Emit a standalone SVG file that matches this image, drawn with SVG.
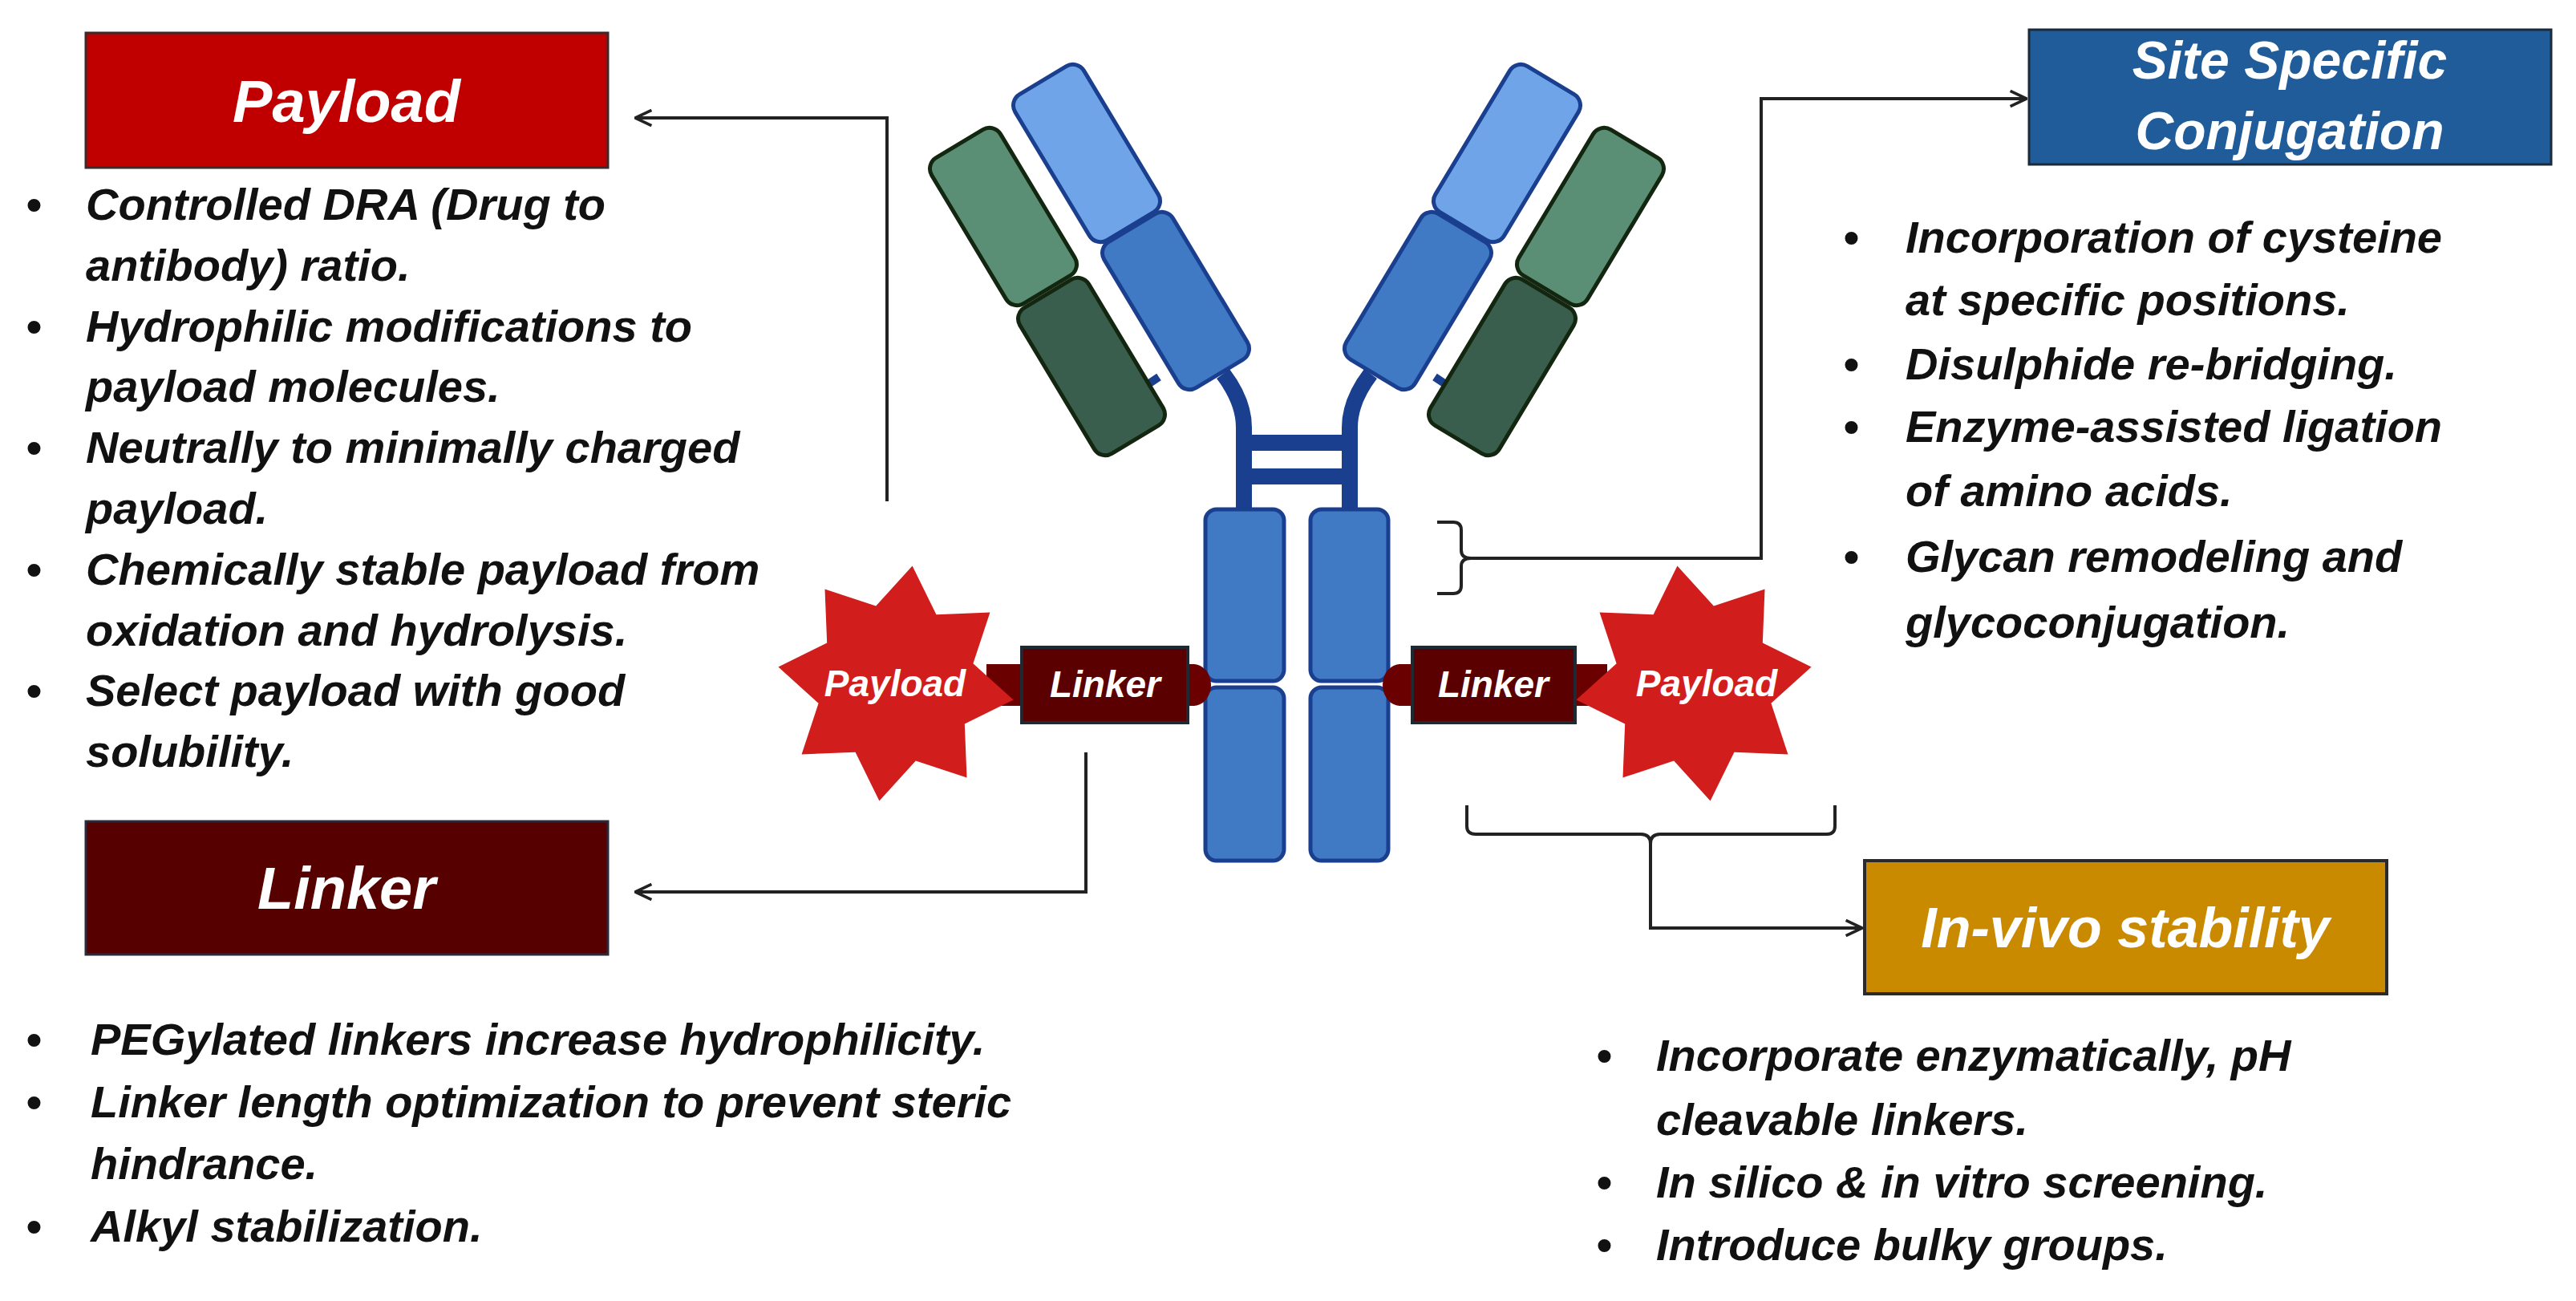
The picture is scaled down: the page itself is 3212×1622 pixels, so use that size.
<svg xmlns="http://www.w3.org/2000/svg" width="3212" height="1622" viewBox="0 0 3212 1622">
<defs>
<style>
.t{font-family:"Liberation Sans",Arial,sans-serif;font-weight:bold;font-style:italic;fill:#111;font-size:56px}
.h{font-family:"Liberation Sans",Arial,sans-serif;font-weight:bold;font-style:italic;fill:#fff;text-anchor:middle}
.c{fill:none;stroke:#222;stroke-width:4}
.lb{fill:#6fa5e8;stroke:#1a3f8f;stroke-width:5}
.mb{fill:#4079c4;stroke:#1a3f8f;stroke-width:5}
.g1{fill:#5a8f76;stroke:#13260f;stroke-width:5}
.g2{fill:#3a5e4d;stroke:#13260f;stroke-width:5}
.lk{fill:#5a0000;stroke:#1e2a33;stroke-width:4}
.st{fill:#d21d1d}
</style>
<marker id="a" viewBox="0 0 20 20" refX="19" refY="10" markerWidth="24" markerHeight="24" orient="auto" markerUnits="userSpaceOnUse"><path d="M2,2 L19,10 L2,18" fill="none" stroke="#222" stroke-width="3"/></marker>
<polygon id="star" points="0,-148 38,-92 104,-104 92,-38 148,0 92,38 104,104 38,92 0,148 -38,92 -104,104 -92,38 -148,0 -92,-38 -104,-104 -38,-92"/>
</defs>
<rect width="3212" height="1622" fill="#fff"/>

<g id="connectors">
<polyline class="c" points="1106,625 1106,147 792,147" marker-end="url(#a)"/>
<polyline class="c" points="1354,938 1354,1112 792,1112" marker-end="url(#a)"/>
<path class="c" d="M1792,651 H1812 Q1822,651 1822,661 V686 Q1822,696 1834,696 Q1822,696 1822,706 V730 Q1822,740 1812,740 H1792"/>
<polyline class="c" points="1834,696 2196,696 2196,123 2527,123" marker-end="url(#a)"/>
<path class="c" d="M1829,1004 V1030 Q1829,1040 1840,1040 H2046 Q2058,1040 2058,1052 Q2058,1040 2070,1040 H2278 Q2288,1040 2288,1030 V1004"/>
<polyline class="c" points="2058,1052 2058,1157 2322,1157" marker-end="url(#a)"/>
</g>

<g id="antibody">
<g fill="none" stroke="#1a3f8f" stroke-width="20">
<path d="M1551,640 V533 Q1551,500 1525,466"/>
<path d="M1683,640 V533 Q1683,500 1709,466"/>
<line x1="1551" y1="552" x2="1683" y2="552"/>
<line x1="1551" y1="594" x2="1683" y2="594"/>
</g>
<line x1="1415" y1="490" x2="1445" y2="470" stroke="#1a3f8f" stroke-width="10"/>
<line x1="1819" y1="490" x2="1789" y2="470" stroke="#1a3f8f" stroke-width="10"/>
<rect class="g1" x="-50" y="-106" width="100" height="212" rx="16" transform="translate(1251,270) rotate(-31)"/>
<rect class="g2" x="-50" y="-106" width="100" height="212" rx="16" transform="translate(1361,457) rotate(-31)"/>
<rect class="lb" x="-50" y="-106" width="100" height="212" rx="16" transform="translate(1355,191) rotate(-31)"/>
<rect class="mb" x="-50" y="-106" width="100" height="212" rx="16" transform="translate(1466,375) rotate(-31)"/>
<rect class="g1" x="-50" y="-106" width="100" height="212" rx="16" transform="translate(1983,270) rotate(31)"/>
<rect class="g2" x="-50" y="-106" width="100" height="212" rx="16" transform="translate(1873,457) rotate(31)"/>
<rect class="lb" x="-50" y="-106" width="100" height="212" rx="16" transform="translate(1879,191) rotate(31)"/>
<rect class="mb" x="-50" y="-106" width="100" height="212" rx="16" transform="translate(1768,375) rotate(31)"/>
<rect class="mb" x="1503" y="635" width="98" height="214" rx="14"/>
<rect class="mb" x="1503" y="857" width="98" height="216" rx="14"/>
<rect class="mb" x="1634" y="635" width="97" height="214" rx="14"/>
<rect class="mb" x="1634" y="857" width="97" height="216" rx="14"/>
</g>

<g id="left-conjugate">
<rect x="1230" y="828" width="260" height="52" fill="#6a0000"/>
<ellipse cx="1488" cy="854" rx="22" ry="26" fill="#6a0000"/>
<use href="#star" class="st" transform="translate(1117,852) rotate(8)"/>
<text class="h" x="1116" y="868" font-size="46">Payload</text>
<rect class="lk" x="1274" y="807" width="207" height="94"/>
<text class="h" x="1378" y="869" font-size="46">Linker</text>
</g>
<g id="right-conjugate">
<rect x="1744" y="828" width="260" height="52" fill="#6a0000"/>
<ellipse cx="1746" cy="854" rx="22" ry="26" fill="#6a0000"/>
<use href="#star" class="st" transform="translate(2112,852) rotate(-8)"/>
<text class="h" x="2128" y="868" font-size="46">Payload</text>
<rect class="lk" x="1761" y="807" width="203" height="94"/>
<text class="h" x="1862" y="869" font-size="46">Linker</text>
</g>

<g id="payload">
<rect x="107" y="41" width="651" height="168" fill="#c00000" stroke="#3a2a2a" stroke-width="3"/>
<text class="h" x="432" y="152" font-size="74">Payload</text>
<g class="t">
<text x="32" y="274">•</text><text x="107" y="274">Controlled DRA (Drug to</text>
<text x="107" y="350">antibody) ratio.</text>
<text x="32" y="426">•</text><text x="107" y="426">Hydrophilic modifications to</text>
<text x="107" y="501">payload molecules.</text>
<text x="32" y="577">•</text><text x="107" y="577">Neutrally to minimally charged</text>
<text x="107" y="653">payload.</text>
<text x="32" y="729">•</text><text x="107" y="729">Chemically stable payload from</text>
<text x="107" y="805">oxidation and hydrolysis.</text>
<text x="32" y="880">•</text><text x="107" y="880">Select payload with good</text>
<text x="107" y="956">solubility.</text>
</g>
</g>

<g id="site-specific">
<rect x="2530" y="37" width="651" height="168" fill="#1f5c99" stroke="#1a2a3a" stroke-width="3"/>
<text class="h" x="2855" y="98" font-size="66">Site Specific</text>
<text class="h" x="2855" y="186" font-size="66">Conjugation</text>
<g class="t">
<text x="2298" y="315">•</text><text x="2376" y="315">Incorporation of cysteine</text>
<text x="2376" y="393">at specific positions.</text>
<text x="2298" y="473">•</text><text x="2376" y="473">Disulphide re-bridging.</text>
<text x="2298" y="551">•</text><text x="2376" y="551">Enzyme-assisted ligation</text>
<text x="2376" y="631">of amino acids.</text>
<text x="2298" y="713">•</text><text x="2376" y="713">Glycan remodeling and</text>
<text x="2376" y="795">glycoconjugation.</text>
</g>
</g>

<g id="linker">
<rect x="107" y="1024" width="651" height="166" fill="#560000" stroke="#2a2a3a" stroke-width="3"/>
<text class="h" x="432" y="1133" font-size="74">Linker</text>
<g class="t">
<text x="32" y="1315">•</text><text x="113" y="1315">PEGylated linkers increase hydrophilicity.</text>
<text x="32" y="1393">•</text><text x="113" y="1393">Linker length optimization to prevent steric</text>
<text x="113" y="1470">hindrance.</text>
<text x="32" y="1548">•</text><text x="113" y="1548">Alkyl stabilization.</text>
</g>
</g>

<g id="in-vivo">
<rect x="2325" y="1073" width="651" height="166" fill="#c98a00" stroke="#2a2a2a" stroke-width="4"/>
<text class="h" x="2650" y="1181" font-size="70">In-vivo stability</text>
<g class="t">
<text x="1990" y="1335">•</text><text x="2065" y="1335">Incorporate enzymatically, pH</text>
<text x="2065" y="1415">cleavable linkers.</text>
<text x="1990" y="1493">•</text><text x="2065" y="1493">In silico &amp; in vitro screening.</text>
<text x="1990" y="1571">•</text><text x="2065" y="1571">Introduce bulky groups.</text>
</g>
</g>
</svg>
